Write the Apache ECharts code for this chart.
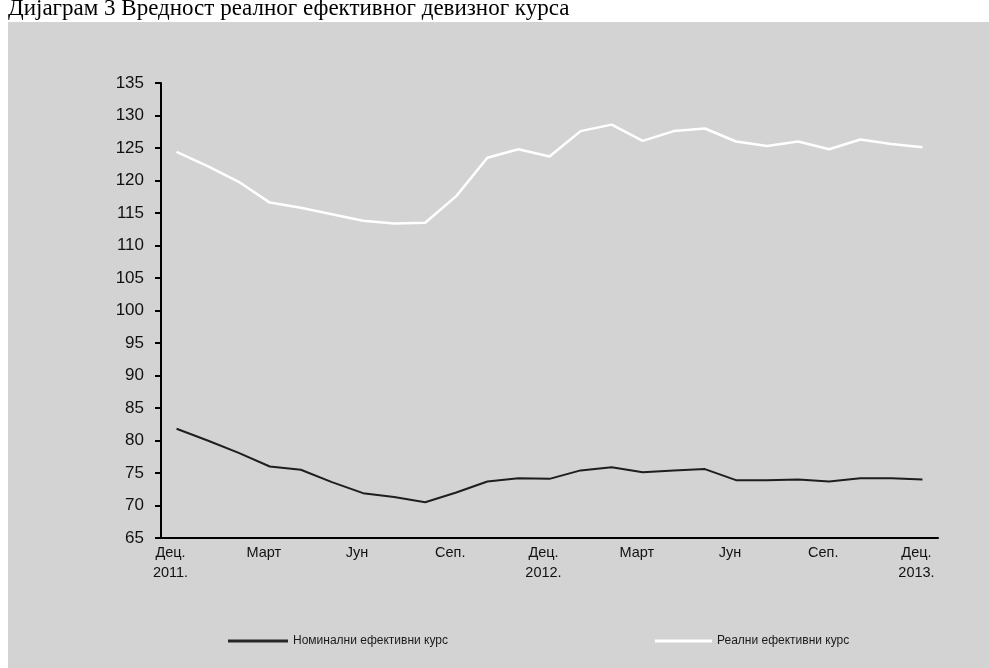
<!DOCTYPE html>
<html>
<head>
<meta charset="utf-8">
<script src="https://cdn.jsdelivr.net/npm/echarts@6/dist/echarts.min.js"></script>
<style>
  html, body { margin: 0; padding: 0; background: #ffffff; }
  #chart { width: 989px; height: 668px; }
</style>
</head>
<body>
<div id="chart"></div>
<script>
// Months from December 2011 to December 2013
const months = [
  'Дец.\n2011.', 'Јан.', 'Феб.', 'Март', 'Апр.', 'Мај', 'Јун', 'Јул', 'Авг.', 'Сеп.', 'Окт.', 'Нов.',
  'Дец.\n2012.', 'Јан.', 'Феб.', 'Март', 'Апр.', 'Мај', 'Јун', 'Јул', 'Авг.', 'Сеп.', 'Окт.', 'Нов.',
  'Дец.\n2013.'
];

// Nominal effective exchange rate index
const nominal = [
  81.8, 80.0, 78.1, 76.0, 75.5, 73.6, 71.9, 71.3, 70.5, 72.0, 73.7, 74.2,
  74.1, 75.4, 75.9, 75.1, 75.4, 75.6, 73.9, 73.9, 74.0, 73.7, 74.2, 74.2,
  74.0
];

// Real effective exchange rate index
const real = [
  124.4, 122.2, 119.8, 116.6, 115.8, 114.8, 113.8, 113.4, 113.5, 117.6, 123.5, 124.8,
  123.7, 127.6, 128.6, 126.1, 127.6, 128.0, 126.0, 125.3, 126.0, 124.8, 126.3, 125.6,
  125.1
];

const seriesNames = ['Номинални ефективни курс', 'Реални ефективни курс'];
const titleText = 'Дијаграм 3 Вредност реалног ефективног девизног курса';

const chart = echarts.init(document.getElementById('chart'), null, { renderer: 'canvas' });

const sans = '"Liberation Sans", Arial, sans-serif';
const legendText = { fontFamily: sans, fontSize: 12, color: '#1a1a1a' };

chart.setOption({
  backgroundColor: '#ffffff',
  animation: false,
  title: {
    text: titleText,
    left: 8,
    top: -3,
    padding: 0,
    textStyle: {
      fontFamily: '"Liberation Serif", "Times New Roman", serif',
      fontSize: 23,
      fontWeight: 'normal',
      color: '#000000'
    }
  },
  graphic: [{
    type: 'rect',
    z: -10,
    silent: true,
    shape: { x: 8, y: 22, width: 981, height: 646 },
    style: { fill: '#d3d3d3' }
  }],
  grid: { left: 161, right: 51, top: 83, bottom: 130, containLabel: false },
  legend: [
    {
      data: [seriesNames[0]],
      left: 228,
      top: 635,
      padding: 0,
      itemWidth: 60,
      itemHeight: 3,
      icon: 'rect',
      textStyle: legendText
    },
    {
      data: [seriesNames[1]],
      left: 655,
      top: 635,
      padding: 0,
      itemWidth: 57,
      itemHeight: 3,
      icon: 'rect',
      textStyle: legendText
    }
  ],
  xAxis: {
    type: 'category',
    data: months,
    boundaryGap: true,
    axisLine: { lineStyle: { color: '#000000', width: 2 } },
    axisTick: { interval: 0, length: 6, lineStyle: { color: '#000000', width: 2 } },
    axisLabel: {
      interval: 2,
      margin: 5,
      lineHeight: 20,
      padding: [0, 12, 0, 0],
      fontFamily: sans,
      fontSize: 14.5,
      color: '#111111'
    },
    splitLine: { show: false }
  },
  yAxis: {
    type: 'value',
    min: 65,
    max: 135,
    interval: 5,
    axisLine: { show: true, lineStyle: { color: '#000000', width: 2 } },
    axisTick: { show: true, length: 6, lineStyle: { color: '#000000', width: 2 } },
    axisLabel: { margin: 17, fontFamily: sans, fontSize: 17, color: '#111111' },
    splitLine: { show: false }
  },
  series: [
    {
      name: seriesNames[0],
      type: 'line',
      data: nominal,
      showSymbol: false,
      symbol: 'none',
      color: '#262626',
      lineStyle: { color: '#1e1e1e', width: 2 }
    },
    {
      name: seriesNames[1],
      type: 'line',
      data: real,
      showSymbol: false,
      symbol: 'none',
      color: '#ffffff',
      lineStyle: { color: '#ffffff', width: 2.5 }
    }
  ]
});
</script>
</body>
</html>
